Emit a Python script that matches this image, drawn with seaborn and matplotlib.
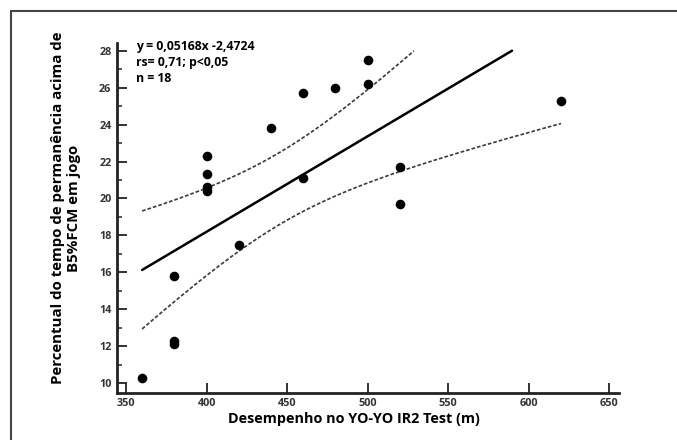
import numpy as np
import pandas as pd
import matplotlib
matplotlib.use("Agg")
import matplotlib.pyplot as plt
import seaborn as sns
from matplotlib.lines import Line2D
from matplotlib.ticker import MultipleLocator

# data
yoyo = [360, 380, 380, 380, 400, 400, 400, 400, 420, 440,
        460, 460, 480, 500, 500, 520, 520, 620]
tempo = [10.3, 12.3, 12.1, 15.8, 20.4, 20.6, 21.3, 22.3, 17.5, 23.8,
         25.7, 21.1, 26.0, 27.5, 26.2, 21.7, 19.7, 25.3]

# reported fit
slope = 0.05168
intercept = -2.4724
t_crit = 2.12  # t(0.975, df=16)

df = pd.DataFrame({"x": yoyo, "y": tempo})

sns.set_style("ticks")
plt.rcParams["font.family"] = ["Open Sans", "DejaVu Sans"]
plt.rcParams["text.color"] = "black"

W, H = 677, 440
fig = plt.figure(figsize=(W / 100, H / 100), dpi=100)
ax = fig.add_axes([117 / W, 1 - 392.7 / H, (619 - 117) / W, (392.7 - 42.7) / H])

# regression line + 95% CI of the mean
x = df["x"].to_numpy(float)
y = df["y"].to_numpy(float)
n = len(x)
resid = y - (slope * x + intercept)
s = np.sqrt(np.sum(resid ** 2) / (n - 2))
sxx = np.sum((x - x.mean()) ** 2)
xg = np.linspace(360, 620, 300)
yg = slope * xg + intercept
hw = t_crit * s * np.sqrt(1 / n + (xg - x.mean()) ** 2 / sxx)
top = 28.0
for yy, ls, lw, col in [(yg, "-", 1.8, "black"),
                        (yg + hw, (0, (2.2, 1.2)), 1.2, "#3a3a3a"),
                        (yg - hw, (0, (2.2, 1.2)), 1.2, "#3a3a3a")]:
    m = yy <= top
    ax.plot(xg[m], yy[m], linestyle=ls, lw=lw, color=col, zorder=2)

sns.scatterplot(data=df, x="x", y="y", ax=ax, color="black", s=48,
                edgecolor="black", linewidth=0, zorder=3)

ax.set_xlim(344.4, 656)
ax.set_ylim(9.49, 28.43)
ax.xaxis.set_major_locator(MultipleLocator(50))
ax.yaxis.set_major_locator(MultipleLocator(2))
ax.yaxis.set_minor_locator(MultipleLocator(1))
ax.tick_params(axis="both", which="major", direction="in", length=7, width=1.3,
               labelsize=7.8, colors="#222222", pad=4)
ax.tick_params(axis="y", which="minor", direction="in", length=3.5, width=1.1)
for lab in ax.get_xticklabels() + ax.get_yticklabels():
    lab.set_fontweight("bold")
    lab.set_color("#333333")

sns.despine(ax=ax)
for side in ["left", "bottom"]:
    ax.spines[side].set_linewidth(2)
    ax.spines[side].set_color("#222222")
ax.set_xlabel("")
ax.set_ylabel("")

fig.text(354 / W, 1 - 419 / H, "Desempenho no YO-YO IR2 Test (m)", fontsize=10.4,
         fontweight="bold", ha="center", va="center")
fig.text(66 / W, 1 - 208 / H,
         "Percentual do tempo de permanência acima de\nB5%FCM em jogo",
         fontsize=10.8, fontweight="bold", ha="center", va="center",
         rotation=90, multialignment="center", linespacing=1.25)

ax.text(0.038, 1.008, "y = 0,05168x -2,4724\nrs= 0,71; p<0,05\nn = 18",
        transform=ax.transAxes, ha="left", va="top", fontsize=8.8,
        fontweight="bold", linespacing=1.3)

# outer frame
fig.add_artist(Line2D([11 / W, 1], [1 - 11 / H] * 2, color="#444444", lw=1.5,
                      transform=fig.transFigure))
fig.add_artist(Line2D([11 / W] * 2, [0, 1 - 11 / H], color="#444444", lw=1.5,
                      transform=fig.transFigure))

fig.savefig("out.png", dpi=100)
